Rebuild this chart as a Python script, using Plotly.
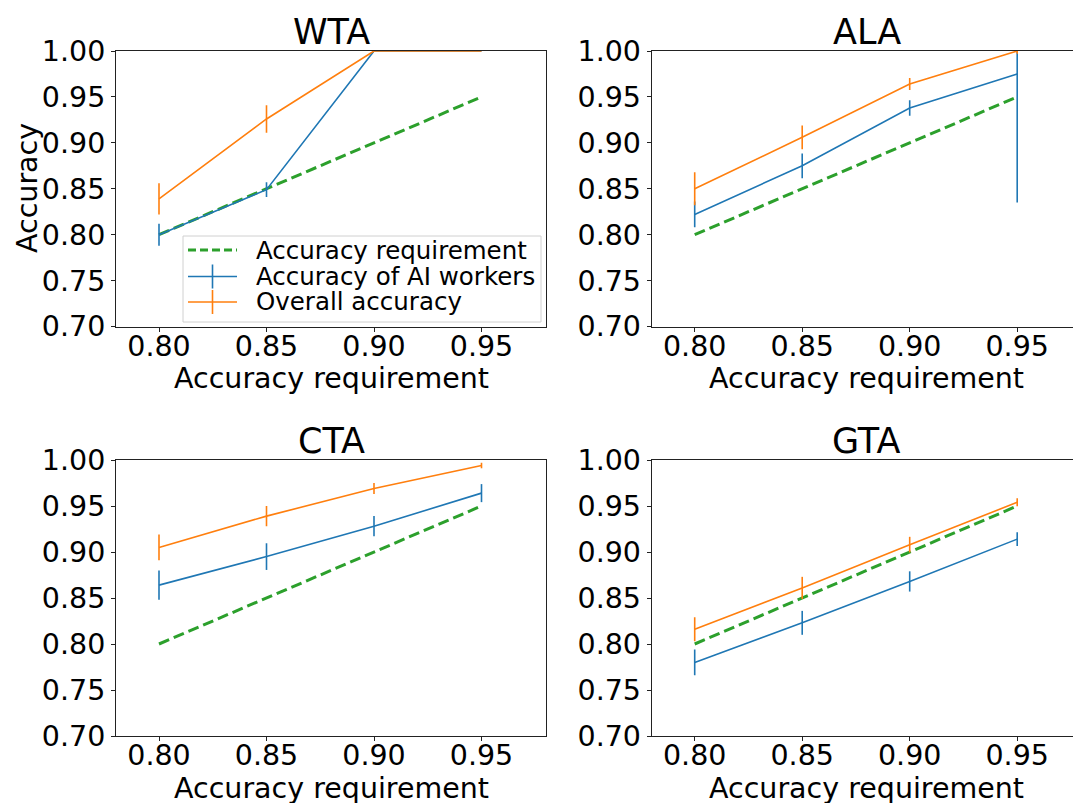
import plotly.graph_objects as go

# ---------------- data ----------------
req = [0.80, 0.85, 0.90, 0.95]
requirement_line = [0.80, 0.85, 0.90, 0.95]

panels = ["WTA", "ALA", "CTA", "GTA"]

ai_acc = {
    "WTA": [0.800, 0.849, 1.000, 1.000],
    "ALA": [0.822, 0.875, 0.938, 0.975],
    "CTA": [0.864, 0.895, 0.928, 0.964],
    "GTA": [0.780, 0.823, 0.868, 0.914],
}
ai_err = {
    "WTA": [0.012, 0.008, 0.0, 0.0],
    "ALA": [0.014, 0.0135, 0.0085, 0.140],
    "CTA": [0.016, 0.0145, 0.011, 0.0098],
    "GTA": [0.014, 0.013, 0.011, 0.0076],
}
overall_acc = {
    "WTA": [0.839, 0.926, 1.000, 1.000],
    "ALA": [0.850, 0.906, 0.964, 1.000],
    "CTA": [0.905, 0.939, 0.969, 0.994],
    "GTA": [0.816, 0.861, 0.908, 0.954],
}
overall_err = {
    "WTA": [0.017, 0.015, 0.0, 0.0],
    "ALA": [0.018, 0.013, 0.0065, 0.003],
    "CTA": [0.014, 0.011, 0.006, 0.003],
    "GTA": [0.013, 0.012, 0.0085, 0.0043],
}

legend_labels = ["Accuracy requirement", "Accuracy of AI workers", "Overall accuracy"]

y_ticks = [0.70, 0.75, 0.80, 0.85, 0.90, 0.95, 1.00]
x_ticks = [0.80, 0.85, 0.90, 0.95]

BLUE = "#1f77b4"
ORANGE = "#ff7f0e"
GREEN = "#2ca02c"
FONT = "DejaVu Sans"

# ---------------- layout geometry (pixels) ----------------
W, H = 1073, 803
def px(x):
    return x / W
def py(y):
    return 1 - y / H

PX_PER_UNIT = 2150.0
left_cols = [(116, 546), (651.7, W)]
rows = [(51, 326.5), (460, 736)]

fig = go.Figure()

axis_ids = ["", "2", "3", "4"]
for i, name in enumerate(panels):
    r, c = divmod(i, 2)
    x0, x1 = left_cols[c]
    y0, y1 = rows[r]
    xa = "x" + axis_ids[i]
    ya = "y" + axis_ids[i]
    fig.add_trace(go.Scatter(x=req, y=requirement_line, mode="lines",
                             name=legend_labels[0],
                             line=dict(color=GREEN, width=3, dash="11px,5px"),
                             showlegend=False, xaxis=xa, yaxis=ya))
    fig.add_trace(go.Scatter(x=req, y=ai_acc[name], mode="lines",
                             name=legend_labels[1],
                             line=dict(color=BLUE, width=1.6),
                             error_y=dict(type="data", array=ai_err[name], width=0,
                                          thickness=1.6, color=BLUE),
                             showlegend=False, xaxis=xa, yaxis=ya))
    fig.add_trace(go.Scatter(x=req, y=overall_acc[name], mode="lines",
                             name=legend_labels[2],
                             line=dict(color=ORANGE, width=1.6),
                             error_y=dict(type="data", array=overall_err[name], width=0,
                                          thickness=1.6, color=ORANGE),
                             showlegend=False, xaxis=xa, yaxis=ya))

    xr1 = 0.78 + (x1 - x0) / PX_PER_UNIT
    xkey = "xaxis" + axis_ids[i]
    ykey = "yaxis" + axis_ids[i]
    fig.layout[xkey] = dict(
        domain=[px(x0), px(x1)], range=[0.78, xr1], anchor=ya,
        tickvals=x_ticks, ticktext=[f"{v:.2f}" for v in x_ticks],
        showline=True, linecolor="#222", linewidth=1, mirror=True,
        ticks="outside", ticklen=4, tickcolor="#222", tickwidth=1,
        showgrid=False, zeroline=False, ticklabelstandoff=-10,
        tickfont=dict(family=FONT, size=28.5, color="black"),
        automargin=False,
    )
    fig.layout[ykey] = dict(
        domain=[py(y1), py(y0)], range=[0.70, 1.00], anchor=xa,
        tickvals=y_ticks, ticktext=[f"{v:.2f}" for v in y_ticks],
        showline=True, linecolor="#222", linewidth=1, mirror=(c == 0),
        ticks="outside", ticklen=4, tickcolor="#222", tickwidth=1,
        showgrid=False, zeroline=False,
        tickfont=dict(family=FONT, size=28.5, color="black"),
        automargin=False,
    )
    cx = (x0 + (x0 + 430)) / 2
    fig.add_annotation(text=name, x=px(cx), y=py(y0 - 19), xref="paper", yref="paper",
                       xanchor="center", yanchor="middle", showarrow=False,
                       font=dict(family=FONT, size=35, color="black"))
    fig.add_annotation(text="Accuracy requirement", x=px(cx), y=py(y1 + 52),
                       xref="paper", yref="paper", xanchor="center", yanchor="middle",
                       showarrow=False, font=dict(family=FONT, size=28.5, color="black"))

fig.add_annotation(text="Accuracy", x=px(27), y=py(188), xref="paper", yref="paper",
                   xanchor="center", yanchor="middle", textangle=-90, showarrow=False,
                   font=dict(family=FONT, size=28.5, color="black"))

# ---------------- legend box (matplotlib style) ----------------
LEG = dict(x0=183, x1=541, y0=236, y1=322)
fig.add_shape(type="rect", xref="paper", yref="paper",
              x0=px(LEG["x0"]), x1=px(LEG["x1"]), y0=py(LEG["y1"]), y1=py(LEG["y0"]),
              line=dict(color="#d0d0d0", width=1), fillcolor="rgba(255,255,255,0.85)",
              layer="above")
row_y = [250, 276.5, 302]
key_styles = [(GREEN, 3, "8px,4px", False), (BLUE, 1.6, "solid", True),
              (ORANGE, 1.6, "solid", True)]
for label, ry, (col, lw, dash, bar) in zip(legend_labels, row_y, key_styles):
    fig.add_shape(type="line", xref="paper", yref="paper",
                  x0=px(188), x1=px(237), y0=py(ry), y1=py(ry),
                  line=dict(color=col, width=lw, dash=dash), layer="above")
    if bar:
        fig.add_shape(type="line", xref="paper", yref="paper",
                      x0=px(212.5), x1=px(212.5), y0=py(ry - 12), y1=py(ry + 12),
                      line=dict(color=col, width=lw), layer="above")
    fig.add_annotation(text=label, x=px(254), y=py(ry), xref="paper", yref="paper",
                       xanchor="left", yanchor="middle", showarrow=False,
                       font=dict(family=FONT, size=24.5, color="black"))

fig.update_layout(
    width=W, height=H,
    margin=dict(l=0, r=0, t=0, b=0),
    paper_bgcolor="white", plot_bgcolor="white",
    font=dict(family=FONT, color="black"),
    showlegend=False,
)

fig.write_html("out.html")
